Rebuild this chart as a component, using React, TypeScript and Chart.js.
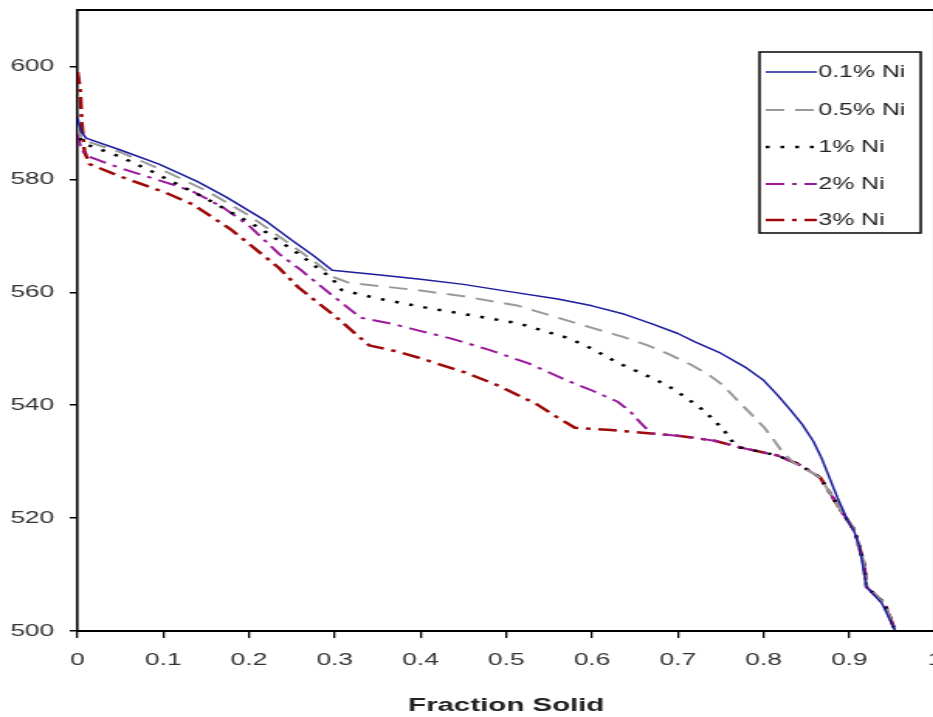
import React, { useEffect, useRef } from "react";
import { Chart, registerables } from "chart.js";

Chart.register(...registerables);

// ---- data ----
const X_TICKS = [0, 0.1, 0.2, 0.3, 0.4, 0.5, 0.6, 0.7, 0.8, 0.9, 1];
const X_LABELS = ["0", "0.1", "0.2", "0.3", "0.4", "0.5", "0.6", "0.7", "0.8", "0.9", "1"];
const Y_TICKS = [500, 520, 540, 560, 580, 600];
const SERIES_NAMES = ["0.1% Ni", "0.5% Ni", "1% Ni", "2% Ni", "3% Ni"];
const X_TITLE = "Fraction Solid";

const NI_01: [number, number][] = [
  [0, 591], [0.004, 588.5], [0.01, 587.3], [0.05, 585.2], [0.095, 582.7], [0.14, 579.6],
  [0.173, 576.9], [0.22, 572.6], [0.25, 569.2], [0.275, 566.5], [0.297, 563.9], [0.35, 563.1],
  [0.4, 562.3], [0.45, 561.4], [0.5, 560.2], [0.56, 558.8], [0.6, 557.6], [0.638, 556.1],
  [0.67, 554.4], [0.7, 552.7], [0.72, 551.2], [0.75, 549.2], [0.78, 546.6], [0.8, 544.4],
  [0.815, 542], [0.83, 539.4], [0.845, 536.6], [0.858, 533.6], [0.868, 530.5], [0.878, 526.7],
  [0.886, 523.7], [0.898, 519.6], [0.906, 517.5], [0.912, 514.8], [0.917, 510.5], [0.92, 507.8],
  [0.938, 504.9], [0.953, 500.2],
];

const NI_05: [number, number][] = [
  [0, 589.5], [0.004, 587.5], [0.01, 586.8], [0.05, 584.8], [0.1, 581.6], [0.15, 578],
  [0.2, 573.6], [0.25, 568.3], [0.28, 565], [0.3, 562.6], [0.316, 561.7], [0.4, 560.3],
  [0.45, 559.3], [0.514, 557.6], [0.56, 555.5], [0.6, 553.7], [0.638, 552], [0.665, 550.6],
  [0.69, 549], [0.715, 547.2], [0.735, 545.5], [0.752, 543.6], [0.768, 541.1], [0.785, 538.5],
  [0.801, 536], [0.812, 533.8], [0.822, 531.7], [0.836, 529.7], [0.866, 527.2], [0.89, 521.4],
  [0.906, 517.8], [0.917, 512], [0.92, 507.8], [0.941, 504.9], [0.953, 500.2],
];

const NI_1: [number, number][] = [
  [0, 589], [0.004, 587], [0.01, 586.2], [0.05, 584], [0.084, 581.6], [0.15, 576.6],
  [0.212, 571.4], [0.258, 566.8], [0.297, 562.4], [0.308, 560.4], [0.35, 558.9], [0.409, 557.2],
  [0.46, 555.9], [0.514, 554.5], [0.572, 551.9], [0.6, 550], [0.63, 547.5], [0.66, 545.5],
  [0.688, 543.5], [0.71, 541.3], [0.727, 539.4], [0.742, 537.4], [0.755, 535.3], [0.765, 533.3],
  [0.773, 532.5], [0.816, 531.1], [0.84, 529.6], [0.866, 527.2], [0.89, 521.4], [0.906, 517.8],
  [0.917, 512], [0.92, 507.8], [0.941, 504.9], [0.953, 500.2],
];

const NI_2: [number, number][] = [
  [0, 588], [0.004, 585.5], [0.01, 584.2], [0.05, 582], [0.1, 579.6], [0.134, 577.9],
  [0.17, 575], [0.2, 571.8], [0.235, 566.8], [0.26, 564], [0.281, 561.4], [0.305, 558.5],
  [0.33, 555.5], [0.37, 554.3], [0.398, 553.2], [0.436, 551.8], [0.48, 549.8], [0.526, 547.4],
  [0.572, 544.3], [0.6, 542.6], [0.63, 540.6], [0.645, 538.8], [0.657, 536.8], [0.669, 535],
  [0.7, 534.6], [0.743, 533.7], [0.773, 532.5], [0.816, 531.1], [0.84, 529.6], [0.866, 527.2],
  [0.89, 521.4], [0.906, 517.8], [0.917, 512], [0.92, 507.8], [0.941, 504.9], [0.953, 500.2],
];

const NI_3: [number, number][] = [
  [0, 599], [0.003, 596], [0.005, 590], [0.008, 585], [0.014, 582.7], [0.05, 580.5],
  [0.1, 577.8], [0.134, 575.6], [0.18, 571], [0.235, 564.3], [0.258, 560.8], [0.3, 555.8],
  [0.34, 550.6], [0.37, 549.6], [0.398, 548.4], [0.452, 545.8], [0.49, 543.5], [0.534, 540.3],
  [0.56, 537.8], [0.58, 536], [0.622, 535.6], [0.669, 535], [0.7, 534.6], [0.743, 533.7],
  [0.773, 532.5], [0.816, 531.1], [0.84, 529.6], [0.866, 527.2], [0.89, 521.4], [0.906, 517.8],
  [0.917, 512], [0.92, 507.8], [0.941, 504.9], [0.953, 500.2],
];

const SERIES = [NI_01, NI_05, NI_1, NI_2, NI_3];

// ---- styles ----
const COLORS = ["#1c1c9e", "#9a9a9a", "#000000", "#9a1a9a", "#9e0a0a"];
const WIDTHS = [1.5, 2, 2.5, 2, 2.5];
const DASHES: number[][] = [[], [12, 7], [2.5, 7], [12, 5, 3, 5], [12, 5, 3, 5]];

const STRETCH = 1.55; // the picture is stretched horizontally
const BW = 620; // bitmap width
const BH = 717;
const FONT = "'Liberation Sans', Arial, sans-serif";

const framePlugin = {
  id: "frame",
  afterDraw(chart: any) {
    const { ctx, chartArea: a } = chart;
    ctx.save();
    ctx.strokeStyle = "#000";
    ctx.lineWidth = 2;
    ctx.beginPath();
    ctx.moveTo(a.left, a.top);
    ctx.lineTo(a.right, a.top);
    ctx.lineTo(a.right, a.bottom);
    ctx.stroke();
    ctx.restore();
  },
};

const legendPlugin = {
  id: "boxLegend",
  afterDraw(chart: any) {
    const { ctx } = chart;
    const bx = 490, by = 52, bw = 104, bh = 181;
    const rows = [72, 110, 147, 184, 220];
    ctx.save();
    ctx.fillStyle = "#fff";
    ctx.fillRect(bx, by, bw, bh);
    ctx.strokeStyle = "#111";
    ctx.lineWidth = 1.6;
    ctx.strokeRect(bx, by, bw, bh);
    chart.data.datasets.forEach((ds: any, i: number) => {
      const y = rows[i];
      ctx.strokeStyle = ds.borderColor;
      ctx.lineWidth = ds.borderWidth;
      ctx.setLineDash(ds.borderDash || []);
      ctx.beginPath();
      ctx.moveTo(494, y);
      ctx.lineTo(527, y);
      ctx.stroke();
      ctx.setLineDash([]);
      ctx.fillStyle = "#222";
      ctx.font = `16px ${FONT}`;
      ctx.textAlign = "left";
      ctx.textBaseline = "middle";
      ctx.fillText(ds.label, 528, y + 1);
    });
    ctx.restore();
  },
};

export default function App() {
  const ref = useRef<HTMLCanvasElement>(null);
  useEffect(() => {
    const canvas = ref.current!;
    const chart = new Chart(canvas, {
      type: "line",
      data: {
        datasets: SERIES.map((s, i) => ({
          label: SERIES_NAMES[i],
          data: s.map(([x, y]) => ({ x, y })),
          borderColor: COLORS[i],
          backgroundColor: COLORS[i],
          borderWidth: WIDTHS[i],
          borderDash: DASHES[i],
          pointRadius: 0,
          fill: false,
          tension: 0,
          borderJoinStyle: "round",
        })),
      },
      options: {
        responsive: false,
        animation: false,
        devicePixelRatio: 1,
        layout: { padding: { top: 10, right: 15, left: 0, bottom: 0 } },
        plugins: { legend: { display: false }, tooltip: { enabled: false } },
        scales: {
          x: {
            type: "linear",
            min: 0,
            max: 1,
            afterBuildTicks: (s: any) => {
              s.ticks = X_TICKS.map((v) => ({ value: v }));
            },
            afterFit: (s: any) => {
              s.height = 86;
            },
            ticks: {
              callback: (_v: any, i: number) => X_LABELS[i],
              font: { family: FONT, size: 17 },
              color: "#333",
              padding: 12,
              maxRotation: 0,
              autoSkip: false,
            },
            grid: { drawOnChartArea: false, drawTicks: true, tickLength: 7, color: "#000", lineWidth: 1.3 },
            border: { display: true, color: "#000", width: 2 },
            title: {
              display: true,
              text: X_TITLE,
              font: { family: FONT, size: 19, weight: "bold" },
              color: "#222",
              padding: { top: 0, bottom: 0 },
            },
          },
          y: {
            type: "linear",
            min: 500,
            max: 610,
            afterBuildTicks: (s: any) => {
              s.ticks = Y_TICKS.map((v) => ({ value: v }));
            },
            afterFit: (s: any) => {
              s.width = 50;
              s.paddingTop = 0;
              s.paddingBottom = 0;
            },
            ticks: {
              callback: (v: any) => String(v),
              font: { family: FONT, size: 17 },
              color: "#333",
              padding: 10,
            },
            grid: { drawOnChartArea: false, drawTicks: true, tickLength: 5, color: "#000", lineWidth: 1.5 },
            border: { display: true, color: "#000", width: 1.6 },
          },
        },
      },
      plugins: [framePlugin, legendPlugin],
    } as any);
    return () => chart.destroy();
  }, []);

  return (
    <div
      style={{
        position: "fixed",
        left: 0,
        top: 0,
        width: 933,
        height: 717,
        overflow: "hidden",
        background: "#fff",
      }}
    >
      <canvas
        ref={ref}
        width={BW}
        height={BH}
        style={{ width: BW * STRETCH, height: BH, display: "block" }}
      />
    </div>
  );
}
